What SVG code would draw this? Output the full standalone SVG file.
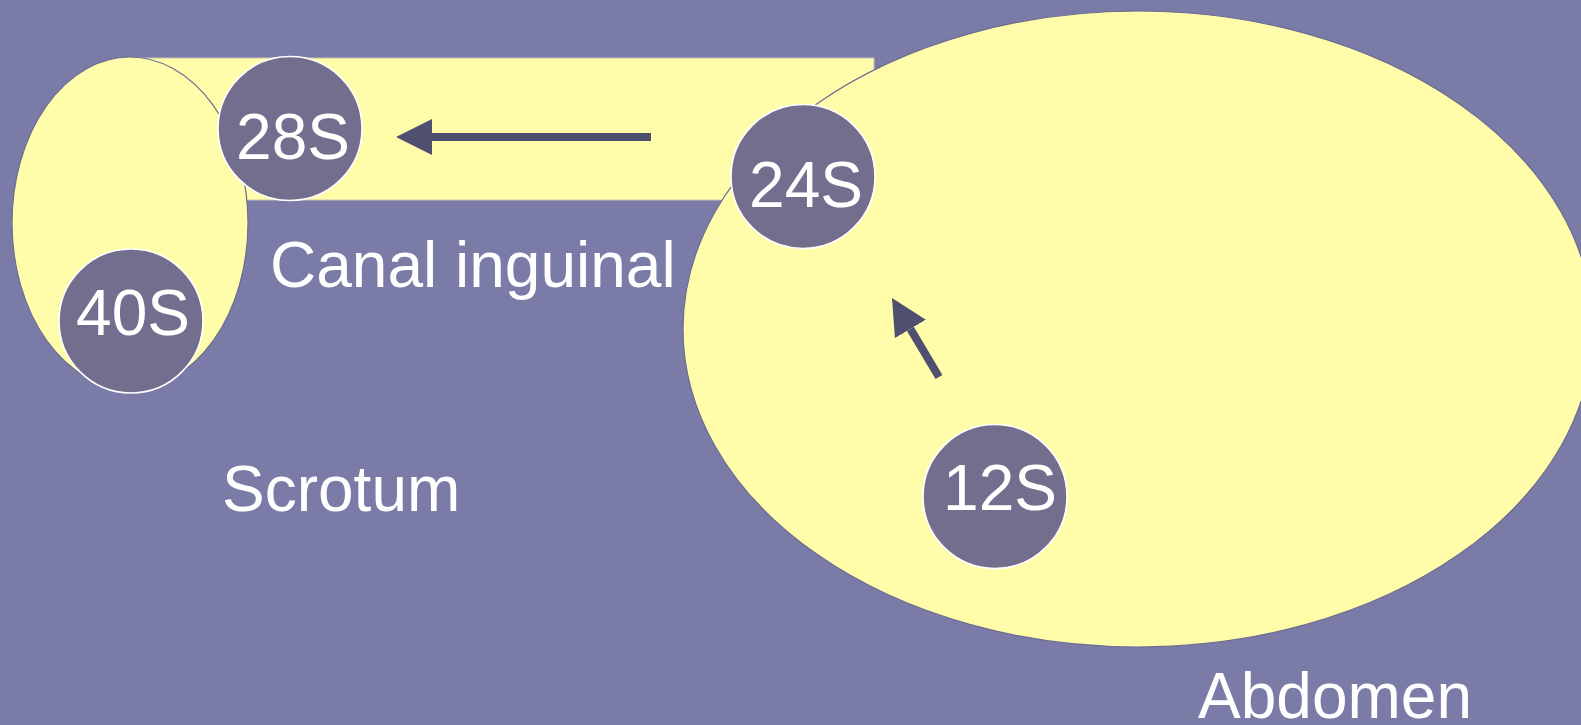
<svg xmlns="http://www.w3.org/2000/svg" width="1581" height="725" viewBox="0 0 1581 725">
<style>
.region{fill:#FFFDAA;stroke:#6C6C92;stroke-width:1.2}
.canal{fill:#FFFDAA;stroke:#C4C4B4;stroke-width:1}
.node circle{fill:#736E8E;stroke:#FFFFFF;stroke-width:1.6}
.node text,.label{font-family:"Liberation Sans",Arial,sans-serif;font-size:64px;fill:#FFFFFF;text-anchor:middle}
.label{text-anchor:start}
.conn{stroke:#4F5070;stroke-width:8;fill:none;marker-end:url(#head)}
</style>
<defs>
<marker id="head" markerUnits="userSpaceOnUse" markerWidth="36" markerHeight="36" viewBox="0 0 36 36" refX="0" refY="18" orient="auto">
<path d="M0,0 L36,18 L0,36 Z" fill="#4F5070"/>
</marker>
</defs>
<rect width="1581" height="725" fill="#7A7BA7"/>
<g id="regions">
<rect id="canal" class="canal" x="131" y="58" width="743" height="142"/>
<ellipse id="scrotum-region" class="region" cx="130" cy="223" rx="118" ry="166"/>
<ellipse id="abdomen-region" class="region" cx="1138" cy="329" rx="455" ry="318"/>
</g>
<g id="labels">
<text class="label" x="270" y="287">Canal inguinal</text>
<text class="label" x="222" y="511">Scrotum</text>
<text class="label" x="1198" y="718">Abdomen</text>
</g>
<g id="connectors">
<line class="conn" x1="651" y1="137" x2="432" y2="137"/>
<line class="conn" x1="939" y1="377" x2="910.4" y2="328.9"/>
</g>
<g id="n28S" class="node"><circle cx="290" cy="128.5" r="72"/><text x="293" y="159">28S</text></g>
<g id="n40S" class="node"><circle cx="131" cy="321" r="72"/><text x="133" y="335">40S</text></g>
<g id="n24S" class="node"><circle cx="803" cy="176.5" r="72"/><text x="806" y="207">24S</text></g>
<g id="n12S" class="node"><circle cx="995" cy="496.5" r="72"/><text x="1000" y="510">12S</text></g>
</svg>
